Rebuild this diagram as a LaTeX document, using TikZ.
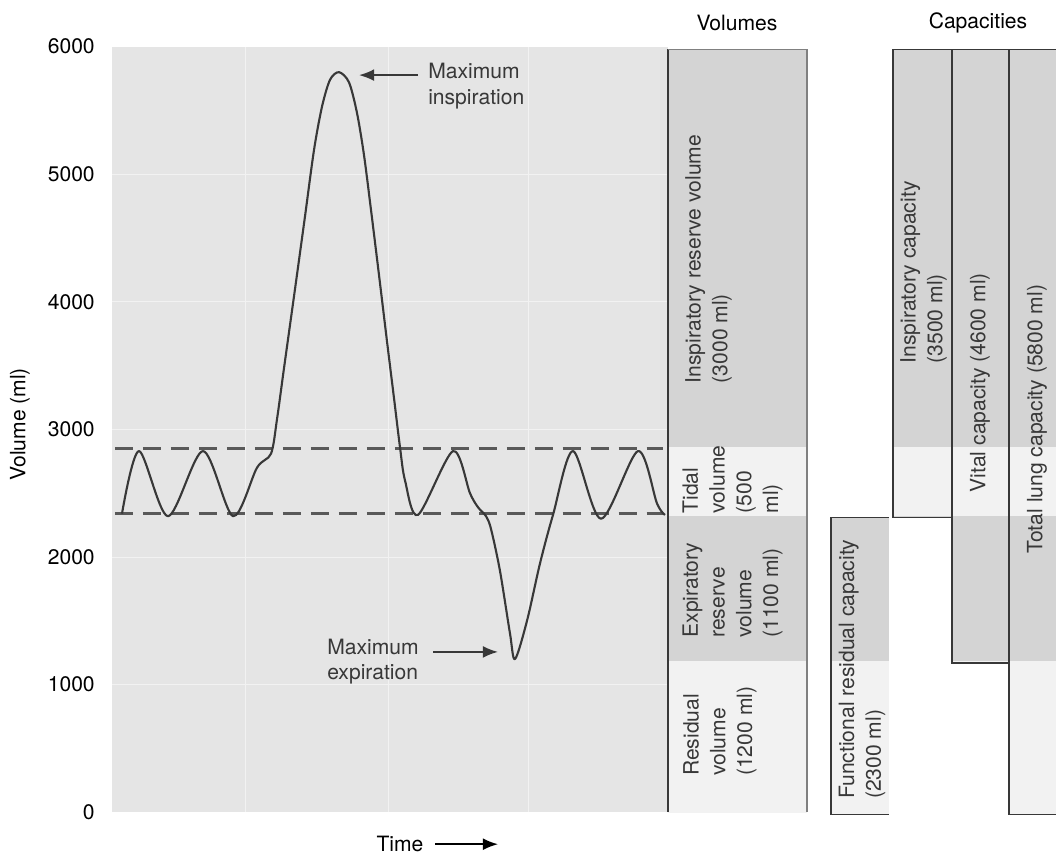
\documentclass[tikz,border=0pt]{standalone}
\usepackage{fontspec}
\setmainfont{TeX Gyre Heros}
\usetikzlibrary{arrows.meta}

\definecolor{plotbg}{gray}{0.90}
\definecolor{gridline}{gray}{0.95}
\definecolor{bandgrey}{gray}{0.83}
\definecolor{bandlight}{gray}{0.95}
\definecolor{ink}{gray}{0.22}

\begin{document}
\begin{tikzpicture}[x=0.025cm, y=0.003185cm, >={Latex[length=3.8mm,width=3mm]},
  font=\fontsize{15}{18}\selectfont,
  ticklab/.style={anchor=east, inner sep=0pt},
  boxtext/.style={rotate=90, anchor=west, inner sep=0pt, align=left, text=ink,
    font=\fontsize{15}{19}\selectfont},
  boxline/.style={draw=ink, line width=0.9pt},
  trace/.style={draw=ink, line width=1.5pt, line join=round},
  tidal/.style={draw=black!65, line width=1.6pt, dash pattern=on 12.8pt off 7.1pt},
  pointer/.style={->, draw=ink, line width=1.3pt}]
  % x in pixels, y in ml (0 ml sits 811 px down the page)
  \useasboundingbox (0,-337.5) rectangle (1056,6365.8);
  % recording paper with its faint grid
  \fill[plotbg] (112,0) rectangle (668,6000);
  \foreach \v in {1000,2000,...,5000}
    \draw[gridline, line width=0.6pt] (112,\v) -- (668,\v);
  \foreach \x in {245,388,528}
    \draw[gridline, line width=0.6pt] (\x,0) -- (\x,6000);
  % y axis labels
  \foreach \v in {0,1000,...,6000}
    \node[ticklab] (tick\v) at (95,\v) {\v};
  \node[rotate=90] (ylab) at (20,3040) {Volume (ml)};
  % resting tidal range
  \draw[tidal] (115,2850) -- (663,2850);
  \draw[tidal] (115,2340) -- (663,2340);
  % spirometer trace
  \draw[trace] plot[smooth, tension=0.5] coordinates {
    (122,2340) (139,2830) (168,2320) (203,2830) (233,2320) (257,2700)
    (271,2810) (277,3080) (284,3480) (295,4100) (305,4670) (314,5190)
    (322,5530) (330,5740) (339,5800) (349,5720) (357,5480) (364,5150)
    (371,4720) (379,4210) (387,3690) (394,3245) (400,2860)
    (405,2600) (418,2330) (453,2830) (470,2500) (478,2390) (486,2320)
    (491,2220) (500,1890) (510,1400) (515,1200) (527,1500) (540,1950)
    (553,2330) (573,2830) (601,2300) (638,2830) (657,2420) (665,2330)};
  % extremes
  \node[anchor=west, inner sep=0pt, align=left, text=ink] (insp) at (428,5690) {Maximum\\inspiration};
  \coordinate (inspfrom) at (418,5777);
  \coordinate (insptip) at (359,5777);
  \draw[pointer] (inspfrom) -- (insptip);
  \node[anchor=west, inner sep=0pt, align=left, text=ink] (exp) at (327,1180) {Maximum\\expiration};
  \coordinate (expfrom) at (433,1256);
  \coordinate (exptip) at (498,1256);
  \draw[pointer] (expfrom) -- (exptip);
  % time axis
  \node[inner sep=0pt] (time) at (400,-251) {Time};
  \coordinate (timetip) at (498,-251);
  \draw[->, line width=1.3pt] (435,-251) -- (timetip);
  % column titles
  \node (voltitle) at (737,6185) {Volumes};
  \node (captitle) at (978,6185) {Capacities};
  % shaded bands inside each box
  \foreach \xa/\xb/\ya/\yb in {668/807/0/5980, 831/889/-20/2308, 893/952/2308/5980,
                               952/1009/1170/5980, 1009/1056/-20/5980} {
    \begin{scope}
      \clip (\xa,\ya) rectangle (\xb,\yb);
      \fill[bandgrey] (\xa,2865) rectangle (\xb,6100);
      \fill[bandlight] (\xa,2323) rectangle (\xb,2865);
      \fill[bandgrey] (\xa,1185) rectangle (\xb,2323);
      \fill[bandlight] (\xa,-100) rectangle (\xb,1185);
    \end{scope}
  }
  % volume column
  \draw[boxline] (668,0) -- (668,5980);
  \draw[boxline, draw=black!50] (668,5980) -- (807,5980) -- (807,0);
  \node[boxtext] (irv) at (708.5,3360) {Inspiratory reserve volume\\(3000 ml)};
  \node[boxtext] (tv) at (732.5,2340) {Tidal\\volume\\(500\\ml)};
  \node[boxtext] (erv) at (732.5,1366) {Expiratory\\reserve\\volume\\(1100 ml)};
  \node[boxtext] (rv) at (720,283) {Residual\\volume\\(1200 ml)};
  % capacity columns
  \draw[boxline] (889,2308) -- (831,2308) -- (831,-20) -- (889,-20);
  \draw[boxline] (952,2308) -- (893,2308) -- (893,5980) -- (1056,5980);
  \draw[boxline] (952,5980) -- (952,1170) -- (1009,1170);
  \draw[boxline] (1009,5980) -- (1009,-20) -- (1056,-20);
  \node[boxtext] (frc) at (862,102) {Functional residual capacity\\(2300 ml)};
  \node[boxtext] (ic) at (923.5,3516) {Inspiratory capacity\\(3500 ml)};
  \node[boxtext] (vc) at (980,2504) {Vital capacity (4600 ml)};
  \node[boxtext] (tlc) at (1037,2025) {Total lung capacity (5800 ml)};
\end{tikzpicture}
\end{document}
